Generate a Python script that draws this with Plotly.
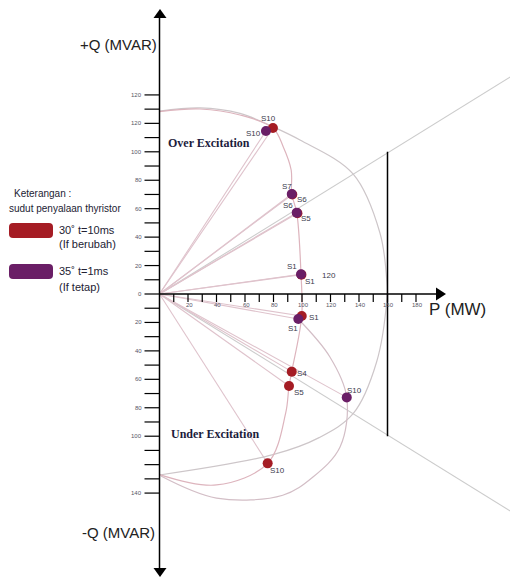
import plotly.graph_objects as go
import numpy as np

# ---------------- data ----------------
# operating points, thyristor firing 30 deg t=10ms (If changes) - red
red_labels = ["S10", "S6", "S5", "S1", "S1", "S4", "S5", "S10"]
red_P = [79.6, 93.2, 96.8, 99.6, 99.8, 92.8, 90.9, 75.9]
red_Q = [116.7, 70.0, 56.8, 13.6, -15.5, -54.6, -64.7, -119.1]

# operating points, thyristor firing 35 deg t=1ms (If constant) - purple
pur_labels = ["S10", "S7", "S6", "S1", "S1", "S10"]
pur_P = [74.7, 92.8, 96.3, 99.3, 97.4, 131.4]
pur_Q = [114.6, 70.3, 57.2, 13.9, -17.6, -72.7]

# extra value label next to S1 (over excitation)
extra_label = "120"

# locus through the operating points (field current curve)
locus_P = [0, 28.4, 56.5, 79.6, 86.8, 92.4, 92.8, 96.3, 99.3, 99.8, 92.8, 90.9, 88.5, 75.9, 40.0, 0]
locus_Q = [128.3, 130.1, 125.9, 116.7, 103.6, 87.2, 70.3, 57.2, 13.9, -15.5, -54.6, -64.7, -84.0, -119.1, -134.3, -127.0]

# capability boundary (grey)
bound_P = [0, 28.4, 56.5, 79.6, 98.6, 135.8, 154.7, 159.6, 159.6, 152.3, 136.0, 112.0, 79.6, 0]
bound_Q = [128.6, 130.9, 127.0, 117.6, 108.3, 84.4, 42.9, 7.7, -2.8, -48.0, -84.0, -101.0, -113.0, -127.3]

# under excitation circle through purple S1 / S10
ue_P = [97.4, 119.6, 131.4, 126.7, 107.7, 86.5, 40.0, 1.0]
ue_Q = [-17.6, -44.3, -72.7, -107.6, -128.7, -141.5, -143.5, -128.0]

# stability limit lines (deg) and turbine limit (MW)
limit_angles = [31.8, -31.8]
turbine_P = 160
turbine_Q = [100, -100]

# axis ticks
x_ticks = list(range(10, 190, 10))
x_tick_labels = {20: "20", 40: "40", 60: "60", 80: "80", 100: "100", 120: "120",
                 140: "140", 160: "160", 180: "180"}
y_ticks = list(range(-140, 150, 10))
y_tick_labels = {140: "120", 120: "120", 100: "100", 80: "80", 60: "60", 40: "40",
                 20: "20", 0: "0", -20: "20", -40: "40", -60: "60", -80: "80",
                 -100: "100", -140: "140"}

# ---------------- geometry helpers (window pixel -> data) ----------------
WIN_W, WIN_H = 518, 577
BODY = 8                      # default page margin around the plot div
W, H = WIN_W - BODY, WIN_H - BODY
OX, OY = 159.5, 294.0         # origin in window pixels
SX, SY = 1.425, 1.422         # pixels per unit


def dx(px):
    return (px - OX) / SX


def dy(py):
    return (OY - py) / SY


x_range = [dx(BODY), dx(WIN_W)]
y_range = [dy(WIN_H), dy(BODY)]

RED = "#a51c24"
PUR = "#6a1e66"
RADIAL = "#dfc3cc"
GREY = "#cdc6c9"
LABEL_FONT = dict(family="Liberation Sans, Arial", size=8, color="#3a3a4c")

fig = go.Figure()

# limit lines from origin
for ang in limit_angles:
    t = np.tan(np.radians(ang))
    pe = x_range[1] + 5
    fig.add_trace(go.Scatter(x=[0, pe], y=[0, pe * t], mode="lines",
                             line=dict(color="#cccccc", width=1.1), hoverinfo="skip",
                             showlegend=False))

# radial lines to points
for P, Q in zip(red_P + pur_P, red_Q + pur_Q):
    fig.add_trace(go.Scatter(x=[0, P], y=[0, Q], mode="lines",
                             line=dict(color=RADIAL, width=1.1), hoverinfo="skip",
                             showlegend=False))

# curves
fig.add_trace(go.Scatter(x=bound_P, y=bound_Q, mode="lines",
                         line=dict(color=GREY, width=1.2, shape="spline", smoothing=1.0),
                         hoverinfo="skip", showlegend=False))
fig.add_trace(go.Scatter(x=locus_P, y=locus_Q, mode="lines",
                         line=dict(color="#ddb4bd", width=1.2, shape="spline", smoothing=1.0),
                         hoverinfo="skip", showlegend=False))
fig.add_trace(go.Scatter(x=ue_P, y=ue_Q, mode="lines",
                         line=dict(color="#d3bec6", width=1.2, shape="spline", smoothing=1.0),
                         hoverinfo="skip", showlegend=False))

# turbine limit
fig.add_trace(go.Scatter(x=[turbine_P, turbine_P], y=turbine_Q, mode="lines",
                         line=dict(color="black", width=1.5), hoverinfo="skip",
                         showlegend=False))

# ticks
tx, ty = [], []
for v in x_ticks:
    tx += [v, v, None]
    ty += [0, -8 / SY, None]
for v in y_ticks:
    tx += [-15 / SX, 0, None]
    ty += [v, v, None]
fig.add_trace(go.Scatter(x=tx, y=ty, mode="lines", line=dict(color="black", width=1.2),
                         hoverinfo="skip", showlegend=False))

# axes
fig.add_shape(type="line", x0=0, x1=0, y0=dy(570), y1=dy(16), line=dict(color="black", width=1.5))
fig.add_shape(type="line", x0=0, x1=dx(439), y0=0, y1=0, line=dict(color="black", width=1.5))
# arrowheads
fig.add_shape(type="path", fillcolor="black", line=dict(width=0),
              path=f"M {dx(153.5)},{dy(18)} L {dx(166.5)},{dy(18)} L {dx(160)},{dy(9)} Z")
fig.add_shape(type="path", fillcolor="black", line=dict(width=0),
              path=f"M {dx(153.5)},{dy(568)} L {dx(166.5)},{dy(568)} L {dx(160)},{dy(577)} Z")
fig.add_shape(type="path", fillcolor="black", line=dict(width=0),
              path=f"M {dx(436)},{dy(287.5)} L {dx(436)},{dy(300.5)} L {dx(446)},{dy(294)} Z")

# markers
fig.add_trace(go.Scatter(x=red_P, y=red_Q, mode="markers",
                         marker=dict(color=RED, size=10), name="30˚ t=10ms", showlegend=False))
fig.add_trace(go.Scatter(x=pur_P, y=pur_Q, mode="markers",
                         marker=dict(color=PUR, size=10), name="35˚ t=1ms", showlegend=False))

ann = []
# point labels (offset in pixels)
red_off = [(-4, 10), (10, -5), (9, -5), (9, -7), (12, -1), (10, -2), (10, -6), (10, -7)]
pur_off = [(-12, -2), (-5, 8), (-9, 7), (-9, 8), (-5, -9), (8, 7)]
for lab, P, Q, (xs, ys) in zip(red_labels, red_P, red_Q, red_off):
    ann.append(dict(x=P, y=Q, text=lab, showarrow=False, xshift=xs, yshift=ys, font=LABEL_FONT))
for lab, P, Q, (xs, ys) in zip(pur_labels, pur_P, pur_Q, pur_off):
    ann.append(dict(x=P, y=Q, text=lab, showarrow=False, xshift=xs, yshift=ys, font=LABEL_FONT))
ann.append(dict(x=red_P[3], y=red_Q[3], text=extra_label, showarrow=False, xshift=28, yshift=-1,
                font=LABEL_FONT))

# tick labels
TICK_FONT = dict(family="Liberation Sans, Arial", size=6, color="#555566")
for v, t in x_tick_labels.items():
    ann.append(dict(x=v, y=0, text=t, showarrow=False, yshift=-11, xshift=1, font=TICK_FONT))
for v, t in y_tick_labels.items():
    ann.append(dict(x=0, y=v, text=t, showarrow=False, xanchor="right", xshift=-16, font=TICK_FONT))

# axis titles
AX_FONT = dict(family="Liberation Sans, Arial", size=15, color="#222222")
ann.append(dict(x=dx(118), y=dy(44), text="+Q (MVAR)", showarrow=False, font=AX_FONT))
ann.append(dict(x=dx(118), y=dy(532), text="-Q (MVAR)", showarrow=False, font=AX_FONT))
ann.append(dict(x=dx(457), y=dy(309), text="P (MW)", showarrow=False,
                font=dict(family="Liberation Sans, Arial", size=17, color="#222222")))

# region titles
REG_FONT = dict(family="Liberation Serif, Times New Roman", size=12, color="#1c1c3c")
ann.append(dict(x=dx(209), y=dy(143), text="<b>Over Excitation</b>", showarrow=False, font=REG_FONT))
ann.append(dict(x=dx(215), y=dy(434), text="<b>Under Excitation</b>", showarrow=False, font=REG_FONT))

# legend (custom)
LEG_FONT = dict(family="Liberation Sans, Arial", size=10, color="#222233")
ann.append(dict(x=dx(12), y=dy(193), text="Keterangan :", showarrow=False, xanchor="left", font=LEG_FONT))
ann.append(dict(x=dx(10), y=dy(208), text="sudut penyalaan thyristor", showarrow=False, xanchor="left",
                xshift=-3, font=LEG_FONT))
LEG2 = dict(family="Liberation Sans, Arial", size=11, color="#222233")
ann.append(dict(x=dx(57), y=dy(230), text="30˚ t=10ms", showarrow=False, xanchor="left", font=LEG2))
ann.append(dict(x=dx(57), y=dy(244), text="(If berubah)", showarrow=False, xanchor="left", font=LEG2))
ann.append(dict(x=dx(57), y=dy(271), text="35˚ t=1ms", showarrow=False, xanchor="left", font=LEG2))
ann.append(dict(x=dx(57), y=dy(287), text="(If tetap)", showarrow=False, xanchor="left", font=LEG2))


def rrect(x0, y0, x1, y1, r):
    return (f"M {dx(x0 + r)},{dy(y0)} L {dx(x1 - r)},{dy(y0)} Q {dx(x1)},{dy(y0)} {dx(x1)},{dy(y0 + r)} "
            f"L {dx(x1)},{dy(y1 - r)} Q {dx(x1)},{dy(y1)} {dx(x1 - r)},{dy(y1)} "
            f"L {dx(x0 + r)},{dy(y1)} Q {dx(x0)},{dy(y1)} {dx(x0)},{dy(y1 - r)} "
            f"L {dx(x0)},{dy(y0 + r)} Q {dx(x0)},{dy(y0)} {dx(x0 + r)},{dy(y0)} Z")


fig.add_shape(type="path", path=rrect(9, 223, 53, 238, 4), fillcolor=RED, line=dict(width=0))
fig.add_shape(type="path", path=rrect(9, 264, 53, 279, 4), fillcolor=PUR, line=dict(width=0))

fig.update_layout(
    width=W, height=H, margin=dict(l=0, r=0, t=0, b=0),
    paper_bgcolor="white", plot_bgcolor="white",
    xaxis=dict(range=x_range, visible=False, fixedrange=True),
    yaxis=dict(range=y_range, visible=False, fixedrange=True),
    annotations=ann, showlegend=False,
)

fig.write_html("out.html")
